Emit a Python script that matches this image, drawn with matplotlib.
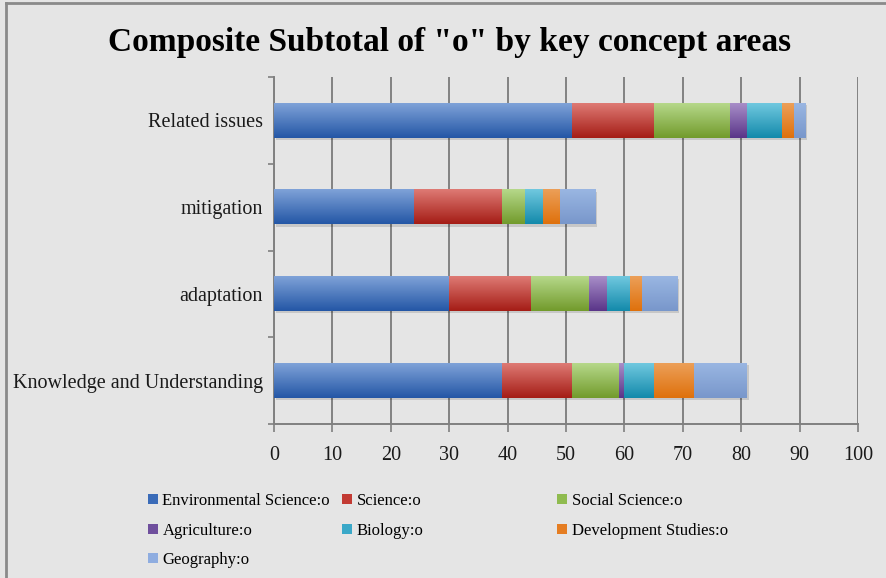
import numpy as np
import matplotlib
matplotlib.use("Agg")
import matplotlib.pyplot as plt
from matplotlib.colors import LinearSegmentedColormap
from matplotlib.patches import Patch, Rectangle

# categories, bottom to top
categorias = ["Knowledge and Understanding", "adaptation", "mitigation", "Related issues"]

env_science = [39, 30, 24, 51]
science = [12, 14, 15, 14]
social_science = [8, 10, 4, 13]
agriculture = [1, 3, 0, 3]
biology = [5, 4, 3, 6]
development = [7, 2, 3, 2]
geography = [9, 6, 6, 2]

series = [
    ("Environmental Science:o", env_science, "#7fa2d8", "#2457a6", "#3a6bb8"),
    ("Science:o", science, "#de7a74", "#a51d16", "#c23a33"),
    ("Social Science:o", social_science, "#b6d88a", "#729b2c", "#8fbb4f"),
    ("Agriculture:o", agriculture, "#a88ec8", "#5a3589", "#6f4f9d"),
    ("Biology:o", biology, "#70c8df", "#138aab", "#3aa8c8"),
    ("Development Studies:o", development, "#ec9f58", "#df710c", "#e57d22"),
    ("Geography:o", geography, "#9ab6e2", "#7897cb", "#8fade0"),
]

fundo = "#e5e5e5"
serif = ["Liberation Serif", "DejaVu Serif"]

fig = plt.figure(figsize=(8.86, 5.78), dpi=100, facecolor=fundo)
ax = fig.add_axes([274 / 886, 1 - 424 / 578, 584 / 886, 347 / 578])
ax.set_facecolor(fundo)

altura = 0.4
y = np.arange(len(categorias))
totais = np.zeros(len(categorias))
for nome, valores, claro, escuro, _ in series:
    cmap = LinearSegmentedColormap.from_list(nome, [claro, escuro])
    grad = np.linspace(0, 1, 64).reshape(-1, 1)
    for i, v in enumerate(valores):
        if v <= 0:
            continue
        x0 = totais[i]
        ax.imshow(grad, cmap=cmap, aspect="auto", origin="upper",
                  extent=[x0, x0 + v, y[i] - altura / 2, y[i] + altura / 2],
                  zorder=4, interpolation="bilinear")
    totais += np.array(valores)

# sombra leve por baixo das barras
for i, t in enumerate(totais):
    ax.add_patch(Rectangle((0.3, y[i] - altura / 2 - 0.025), t, altura,
                           facecolor="#000000", alpha=0.13, zorder=3, linewidth=0))

ax.set_xlim(0, 100)
ax.set_ylim(-0.5, 3.5)
ax.set_xticks(np.arange(0, 101, 10))
ax.set_yticks(y)
ax.set_yticklabels(categorias, fontfamily=serif, fontsize=14.5, color="#1a1a1a")
ax.set_yticks(np.arange(-0.5, 3.6, 1), minor=True)
ax.tick_params(axis="y", which="major", length=0, pad=8)
ax.tick_params(axis="y", which="minor", length=4, color="#808080", width=1.2)
ax.tick_params(axis="x", length=6, color="#808080", width=1.2, pad=10, labelsize=14.5)
for lbl in ax.get_xticklabels():
    lbl.set_fontfamily(serif)
    lbl.set_color("#1a1a1a")

ax.grid(axis="x", color="#7a7a7a", linewidth=1.3, zorder=1)
ax.set_axisbelow(True)
for lado in ["top", "right"]:
    ax.spines[lado].set_visible(False)
for lado in ["left", "bottom"]:
    ax.spines[lado].set_color("#808080")
    ax.spines[lado].set_linewidth(1.4)

fig.text(0.507, 0.927, 'Composite Subtotal of "o" by key concept areas',
         ha="center", va="center", fontsize=24, fontweight="bold", family=serif)

# legenda em tres colunas, preenchida por linhas
handles = [Patch(facecolor=c, edgecolor="none") for _, _, _, _, c in series]
nomes = [s[0] for s in series]
colunas = [[0, 3, 6], [1, 4], [2, 5]]
xs = [140, 334, 549]
for col, x in zip(colunas, xs):
    fig.legend([handles[k] for k in col], [nomes[k] for k in col],
               loc="upper left", bbox_to_anchor=(x / 886, 1 - 485 / 578),
               frameon=False, handlelength=0.55, handleheight=0.55,
               handletextpad=0.3, labelspacing=0.8, borderpad=0,
               prop={"family": serif, "size": 12})

# contorno superior e esquerdo
fig.add_artist(plt.Line2D([6 / 886, 1], [1 - 3 / 578, 1 - 3 / 578],
                          transform=fig.transFigure, color="#8a8a8a", linewidth=2))
fig.add_artist(plt.Line2D([6 / 886, 6 / 886], [0, 1 - 3 / 578],
                          transform=fig.transFigure, color="#8a8a8a", linewidth=2))

fig.savefig("out.png", dpi=100, facecolor=fundo)
